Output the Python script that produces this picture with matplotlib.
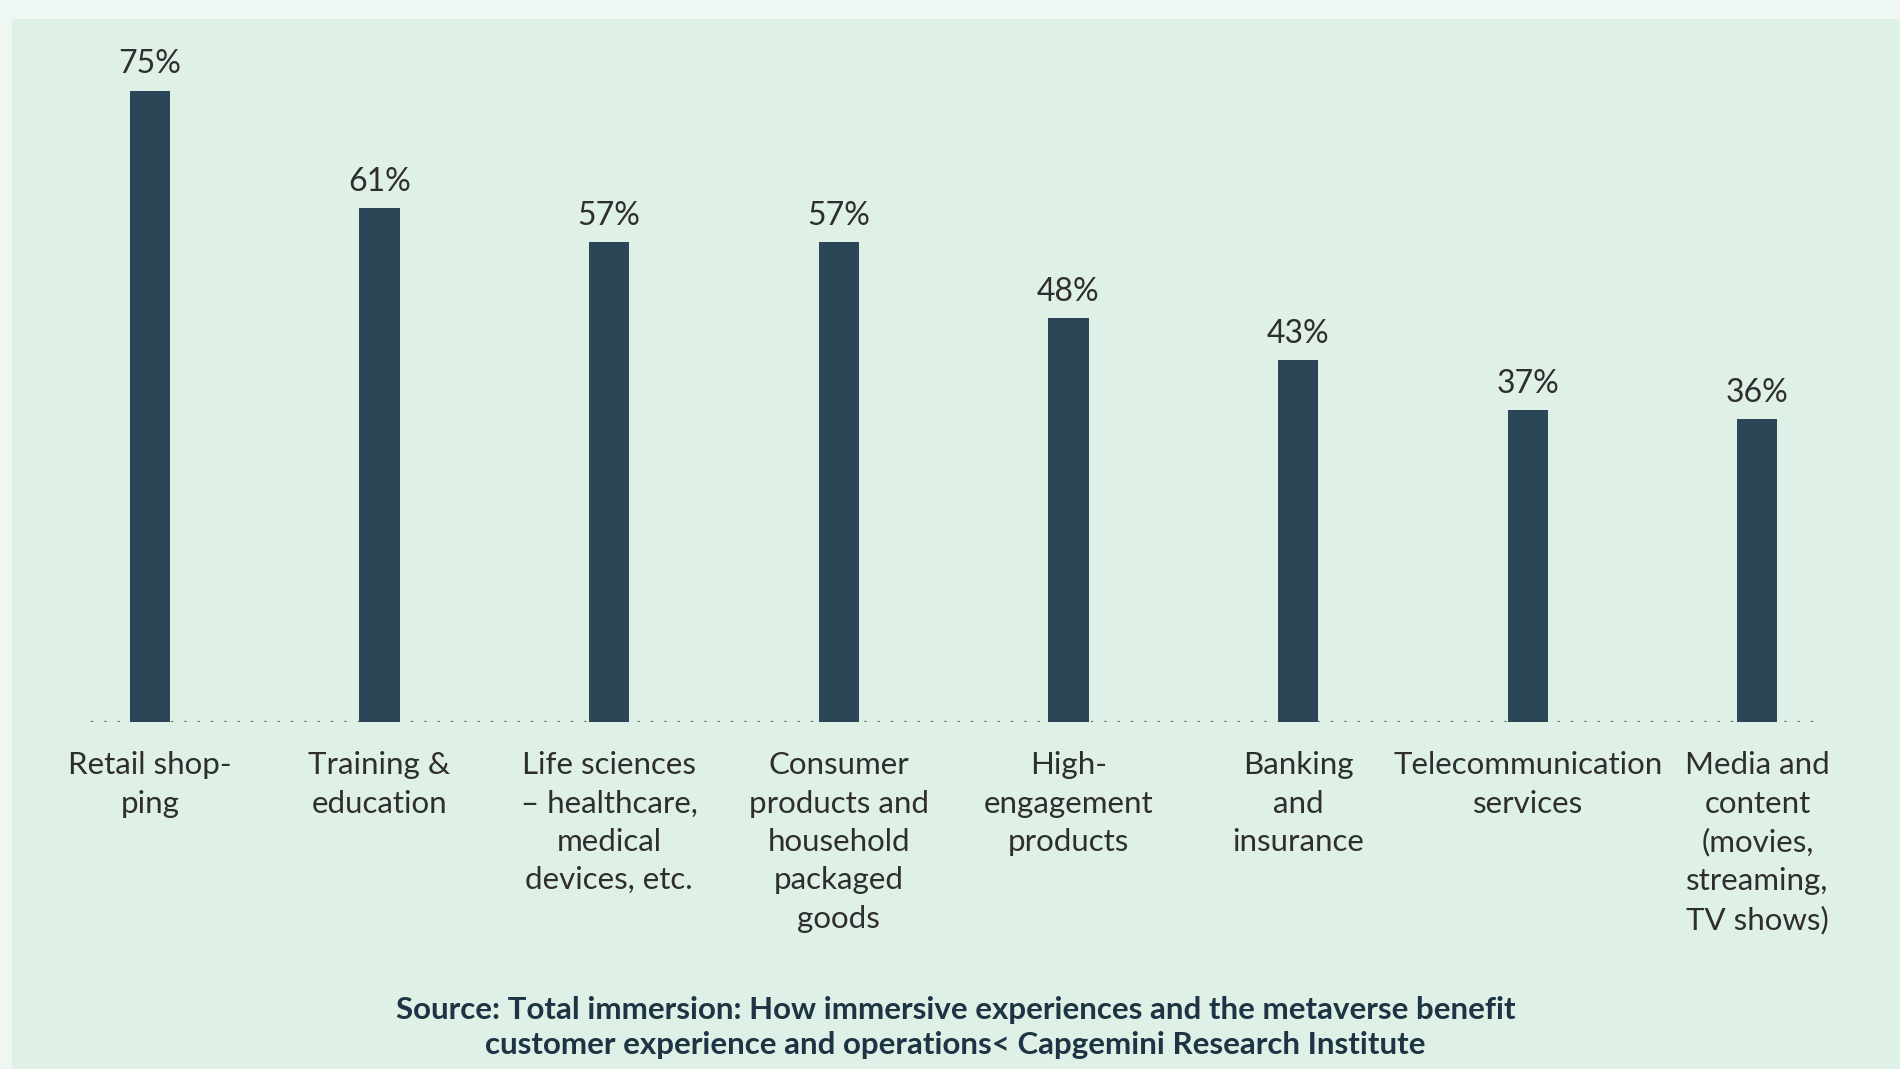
import matplotlib
import matplotlib.pyplot as plt
from matplotlib.patches import Rectangle

matplotlib.use("Agg")

categories = [
    "Retail shop-\nping",
    "Training &\neducation",
    "Life sciences\n– healthcare,\nmedical\ndevices, etc.",
    "Consumer\nproducts and\nhousehold\npackaged\ngoods",
    "High-\nengagement\nproducts",
    "Banking\nand\ninsurance",
    "Telecommunication\nservices",
    "Media and\ncontent\n(movies,\nstreaming,\nTV shows)",
]
values = [75, 61, 57, 57, 48, 43, 37, 36]
source_text = ("Source: Total immersion: How immersive experiences and the metaverse benefit\n"
               "customer experience and operations< Capgemini Research Institute")

OUTER_BG = "#eef7f2"
PANEL_BG = "#dff0e6"
BAR_COLOR = "#2b4657"
TEXT_COLOR = "#2e2e2e"
SOURCE_COLOR = "#1c3443"

plt.rcParams["font.family"] = ["Lato", "DejaVu Sans"]

fig = plt.figure(figsize=(19, 10.69), dpi=100, facecolor=OUTER_BG)

# inner panel, behind everything
fig.patches.append(Rectangle((12 / 1900, 0), 1, 1 - 19 / 1069,
                             transform=fig.transFigure, facecolor=PANEL_BG,
                             edgecolor="none", zorder=-10))

ax = fig.add_axes([0.048, 0.3246, 0.912, 0.638])
ax.set_facecolor("none")

x = list(range(len(values)))
bars = ax.bar(x, values, width=0.175, color=BAR_COLOR, zorder=3)

for b, v in zip(bars, values):
    ax.annotate(f"{v}%", (b.get_x() + b.get_width() / 2, v),
                xytext=(0, 8), textcoords="offset points",
                ha="center", va="bottom", fontsize=23, fontweight="normal",
                color=TEXT_COLOR)

ax.set_xlim(-0.255, 7.29)
ax.set_ylim(0, 81)

# dotted baseline
ax.axhline(0, color="#6b6b6b", linewidth=1.6, linestyle=(0, (1, 5)), zorder=2)

for s in ax.spines.values():
    s.set_visible(False)
ax.set_yticks([])
ax.set_xticks(x)
ax.set_xticklabels(categories, fontsize=22.5, fontweight="normal", color=TEXT_COLOR)
ax.tick_params(axis="x", length=0, pad=21)
for lbl in ax.get_xticklabels():
    lbl.set_linespacing(1.45)

fig.text(0.503, 0.039, source_text, ha="center", va="center", fontsize=22.5,
         fontweight="bold", color=SOURCE_COLOR, linespacing=1.3)

fig.savefig("out.png", dpi=100, facecolor=OUTER_BG)
